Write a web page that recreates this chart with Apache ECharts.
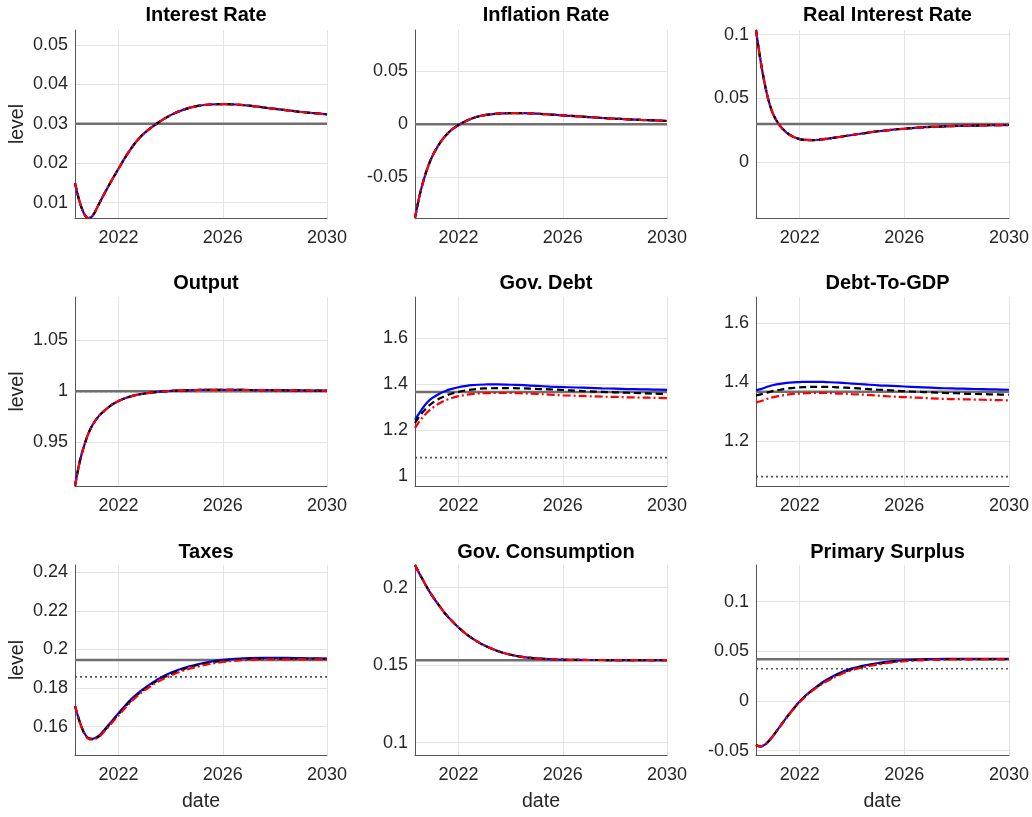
<!DOCTYPE html>
<html><head><meta charset="utf-8">
<script src="https://cdn.jsdelivr.net/npm/echarts@6/dist/echarts.min.js"></script>
<style>html,body{margin:0;padding:0;background:#fff}#c{width:1032px;height:817px}</style>
</head><body><div id="c"></div>
<script>
// ---- data ----
const years = [2020.33, 2020.5, 2020.67, 2020.83, 2021, 2021.25, 2021.5, 2021.75, 2022, 2022.25, 2022.5, 2022.75, 2023, 2023.5, 2024, 2024.5, 2025, 2025.5, 2026, 2026.5, 2027, 2027.5, 2028, 2028.5, 2029, 2029.5, 2030];
const xTicks = [2022, 2026, 2030];
const titles = ['Interest Rate', 'Inflation Rate', 'Real Interest Rate', 'Output', 'Gov. Debt', 'Debt-To-GDP', 'Taxes', 'Gov. Consumption', 'Primary Surplus'];

const interestBlue = [0.0150, 0.0104, 0.0073, 0.0061, 0.0066, 0.0097, 0.0128, 0.0158, 0.0186, 0.0214, 0.0239, 0.0260, 0.0277, 0.0302, 0.0322, 0.0336, 0.0345, 0.0349, 0.0350, 0.0349, 0.0346, 0.0342, 0.0338, 0.0334, 0.0330, 0.0327, 0.0324];
const interestBlack = interestBlue;
const interestRed = interestBlue;

const inflationBlue = [-0.0884, -0.068, -0.052, -0.040, -0.030, -0.019, -0.011, -0.005, -0.0008, 0.0025, 0.0052, 0.0072, 0.0086, 0.0100, 0.0105, 0.0104, 0.0099, 0.0091, 0.0083, 0.0075, 0.0067, 0.0059, 0.0052, 0.0046, 0.0040, 0.0035, 0.0030];
const inflationBlack = inflationBlue;
const inflationRed = inflationBlue;

const realRateBlue = [0.1036, 0.080, 0.061, 0.047, 0.037, 0.0285, 0.0233, 0.0200, 0.0182, 0.0175, 0.0174, 0.0177, 0.0183, 0.0198, 0.0214, 0.0229, 0.0243, 0.0254, 0.0263, 0.0271, 0.0277, 0.0281, 0.0285, 0.0287, 0.0289, 0.0291, 0.0292];
const realRateBlack = realRateBlue;
const realRateRed = realRateBlue;

const outputBlue = [0.9075, 0.930, 0.946, 0.958, 0.967, 0.976, 0.982, 0.987, 0.9905, 0.9932, 0.9953, 0.9968, 0.9979, 0.9994, 1.0004, 1.0010, 1.0013, 1.0015, 1.0015, 1.0014, 1.0013, 1.0012, 1.0011, 1.0010, 1.0009, 1.0008, 1.0007];
const outputBlack = outputBlue;
const outputRed = outputBlue;

const debtBlue = [1.245, 1.275, 1.303, 1.325, 1.341, 1.358, 1.371, 1.380, 1.387, 1.392, 1.396, 1.398, 1.399, 1.400, 1.398, 1.396, 1.393, 1.390, 1.388, 1.386, 1.384, 1.382, 1.381, 1.379, 1.378, 1.377, 1.376];
const debtBlack = [1.231, 1.260, 1.284, 1.303, 1.319, 1.337, 1.350, 1.360, 1.367, 1.373, 1.377, 1.380, 1.382, 1.383, 1.383, 1.382, 1.380, 1.378, 1.375, 1.372, 1.369, 1.367, 1.365, 1.363, 1.361, 1.359, 1.358];
const debtRed = [1.209, 1.238, 1.262, 1.281, 1.297, 1.316, 1.330, 1.340, 1.348, 1.353, 1.357, 1.360, 1.361, 1.362, 1.362, 1.360, 1.358, 1.355, 1.352, 1.350, 1.348, 1.346, 1.345, 1.343, 1.342, 1.341, 1.340];

const dgdpBlue = [1.373, 1.377, 1.382, 1.387, 1.391, 1.395, 1.398, 1.400, 1.401, 1.402, 1.402, 1.402, 1.401, 1.399, 1.396, 1.393, 1.390, 1.388, 1.386, 1.384, 1.382, 1.380, 1.379, 1.378, 1.377, 1.376, 1.375];
const dgdpBlack = [1.356, 1.359, 1.363, 1.367, 1.371, 1.375, 1.379, 1.381, 1.383, 1.384, 1.385, 1.385, 1.385, 1.383, 1.381, 1.378, 1.375, 1.373, 1.370, 1.368, 1.366, 1.364, 1.363, 1.361, 1.360, 1.359, 1.358];
const dgdpRed = [1.332, 1.336, 1.341, 1.346, 1.350, 1.355, 1.358, 1.361, 1.362, 1.363, 1.364, 1.364, 1.364, 1.362, 1.360, 1.358, 1.355, 1.352, 1.350, 1.348, 1.346, 1.344, 1.343, 1.342, 1.341, 1.340, 1.339];

const taxesBlue = [0.1707, 0.1630, 0.1571, 0.1542, 0.1537, 0.1553, 0.1590, 0.1630, 0.1670, 0.1709, 0.1744, 0.1774, 0.1800, 0.1845, 0.1879, 0.1904, 0.1922, 0.1936, 0.1946, 0.1952, 0.1956, 0.1957, 0.1957, 0.1956, 0.1955, 0.1954, 0.1953];
const taxesBlack = [0.1707, 0.1629, 0.1570, 0.1540, 0.1535, 0.1550, 0.1586, 0.1626, 0.1665, 0.1703, 0.1738, 0.1768, 0.1794, 0.1839, 0.1873, 0.1899, 0.1918, 0.1932, 0.1941, 0.1947, 0.1951, 0.1953, 0.1953, 0.1953, 0.1952, 0.1952, 0.1951];
const taxesRed = [0.1707, 0.1628, 0.1568, 0.1538, 0.1533, 0.1547, 0.1582, 0.1620, 0.1658, 0.1696, 0.1731, 0.1762, 0.1788, 0.1832, 0.1865, 0.1891, 0.1910, 0.1925, 0.1935, 0.1942, 0.1946, 0.1948, 0.1949, 0.1949, 0.1949, 0.1949, 0.1949];

const govConsBlue = [0.2146, 0.2090, 0.2038, 0.1990, 0.1945, 0.1885, 0.1830, 0.1784, 0.1743, 0.1707, 0.1676, 0.1649, 0.1626, 0.1591, 0.1567, 0.1552, 0.1543, 0.1538, 0.1535, 0.1534, 0.1533, 0.1533, 0.1532, 0.1532, 0.1532, 0.1532, 0.1532];
const govConsBlack = govConsBlue;
const govConsRed = govConsBlue;

const surplusBlue = [-0.0443, -0.0458, -0.0440, -0.0400, -0.0345, -0.0255, -0.0165, -0.0080, -0.0005, 0.0060, 0.0115, 0.0165, 0.0208, 0.0278, 0.0328, 0.0360, 0.0382, 0.0398, 0.0410, 0.0417, 0.0421, 0.0423, 0.0424, 0.0424, 0.0424, 0.0423, 0.0423];
const surplusBlack = [-0.0443, -0.0458, -0.0440, -0.0400, -0.0346, -0.0256, -0.0167, -0.0083, -0.0008, 0.0056, 0.0110, 0.0158, 0.0200, 0.0269, 0.0319, 0.0352, 0.0375, 0.0393, 0.0405, 0.0413, 0.0418, 0.0420, 0.0421, 0.0421, 0.0421, 0.0421, 0.0421];
const surplusRed = [-0.0443, -0.0458, -0.0441, -0.0401, -0.0347, -0.0258, -0.0169, -0.0086, -0.0012, 0.0052, 0.0106, 0.0152, 0.0192, 0.0260, 0.0310, 0.0344, 0.0368, 0.0387, 0.0400, 0.0409, 0.0414, 0.0417, 0.0418, 0.0419, 0.0419, 0.0419, 0.0419];

// steady states: new (solid gray) and old (dotted gray)
const steadyNew = [0.03, 0, 0.03, 1, 1.366, 1.368, 0.1945, 0.1532, 0.0419];
const steadyOld = [0.03, 0, 0.03, 1, 1.080, 1.080, 0.1858, 0.1532, 0.0325];

// y axis limits and tick labels
const yMins = [0.0061, -0.0885, -0.0436, 0.9075, 0.956, 1.048, 0.1453, 0.092, -0.0544];
const yMaxs = [0.0538, 0.0888, 0.1036, 1.0922, 1.781, 1.690, 0.2438, 0.2146, 0.1369];
const yTicks = [
  [0.01, 0.02, 0.03, 0.04, 0.05],
  [-0.05, 0, 0.05],
  [0, 0.05, 0.1],
  [0.95, 1, 1.05],
  [1, 1.2, 1.4, 1.6],
  [1.2, 1.4, 1.6],
  [0.16, 0.18, 0.2, 0.22, 0.24],
  [0.1, 0.15, 0.2],
  [-0.05, 0, 0.05, 0.1]
];

const blues = [interestBlue, inflationBlue, realRateBlue, outputBlue, debtBlue, dgdpBlue, taxesBlue, govConsBlue, surplusBlue];
const blacks = [interestBlack, inflationBlack, realRateBlack, outputBlack, debtBlack, dgdpBlack, taxesBlack, govConsBlack, surplusBlack];
const reds = [interestRed, inflationRed, realRateRed, outputRed, debtRed, dgdpRed, taxesRed, govConsRed, surplusRed];

// ---- layout ----
const colLeft = [75, 415, 756];
const colWidth = [252, 252, 253];
const rowTop = [30, 297, 565];
const rowHeight = [188, 189, 190];
const titleTop = [0, 268, 537];
const FONT = 'Liberation Sans, Arial, Helvetica, sans-serif';
const TXT = '#262626';

const chart = echarts.init(document.getElementById('c'), null, {renderer: 'canvas'});
const grids = [], xAxes = [], yAxes = [], series = [], titleList = [];
const pairs = arr => years.map((x, k) => [x, arr[k]]);

for (let i = 0; i < 9; i++) {
  const r = Math.floor(i / 3), c = i % 3;
  grids.push({left: colLeft[c], top: rowTop[r], width: colWidth[c], height: rowHeight[r], containLabel: false});
  titleList.push({
    text: titles[i], left: colLeft[c] + colWidth[c] / 2, top: titleTop[r], textAlign: 'center',
    textStyle: {fontFamily: FONT, fontSize: 20, fontWeight: 'bold', color: '#000'}
  });
  xAxes.push({
    type: 'value', gridIndex: i, min: years[0], max: years[years.length - 1],
    name: r === 2 ? 'date' : '', nameLocation: 'middle', nameGap: 37,
    nameTextStyle: {fontFamily: FONT, fontSize: 19.5, color: TXT},
    axisLine: {show: true, onZero: false, lineStyle: {color: '#555', width: 1}},
    axisTick: {show: false, customValues: xTicks},
    axisLabel: {customValues: xTicks, fontFamily: FONT, fontSize: 18, color: TXT, margin: 11, formatter: v => String(v)},
    splitLine: {show: true, lineStyle: {color: '#e3e3e3', width: 1}}
  });
  yAxes.push({
    type: 'value', gridIndex: i, min: yMins[i], max: yMaxs[i],
    name: c === 0 ? 'level' : '', nameLocation: 'middle', nameGap: 47, nameRotate: 90,
    nameTextStyle: {fontFamily: FONT, fontSize: 19.5, color: TXT},
    axisLine: {show: true, onZero: false, lineStyle: {color: '#555', width: 1}},
    axisTick: {show: false, customValues: yTicks[i]},
    axisLabel: {customValues: yTicks[i], fontFamily: FONT, fontSize: 18, color: TXT, margin: 7, formatter: v => String(v)},
    splitLine: {show: true, lineStyle: {color: '#e3e3e3', width: 1}}
  });
  const base = {type: 'line', xAxisIndex: i, yAxisIndex: i, symbol: 'none', silent: true, animation: false};
  series.push(Object.assign({}, base, {
    data: [[years[0], steadyOld[i]], [years[years.length - 1], steadyOld[i]]],
    lineStyle: {color: '#555', width: 1.6, type: [2, 3]}, z: 2
  }));
  series.push(Object.assign({}, base, {
    data: [[years[0], steadyNew[i]], [years[years.length - 1], steadyNew[i]]],
    lineStyle: {color: '#6f6f6f', width: 2.5}, z: 3
  }));
  series.push(Object.assign({}, base, {
    data: pairs(blues[i]), smooth: 0.35,
    lineStyle: {color: '#0000ff', width: 2.2}, z: 4
  }));
  series.push(Object.assign({}, base, {
    data: pairs(blacks[i]), smooth: 0.35,
    lineStyle: {color: '#000000', width: 2.2, type: [7, 4]}, z: 5
  }));
  series.push(Object.assign({}, base, {
    data: pairs(reds[i]), smooth: 0.35,
    lineStyle: {color: '#ff0000', width: 2.2, type: [8, 3, 2, 3]}, z: 6
  }));
}

chart.setOption({
  animation: false,
  backgroundColor: '#fff',
  title: titleList,
  grid: grids,
  xAxis: xAxes,
  yAxis: yAxes,
  series: series
});
</script>
</body></html>
